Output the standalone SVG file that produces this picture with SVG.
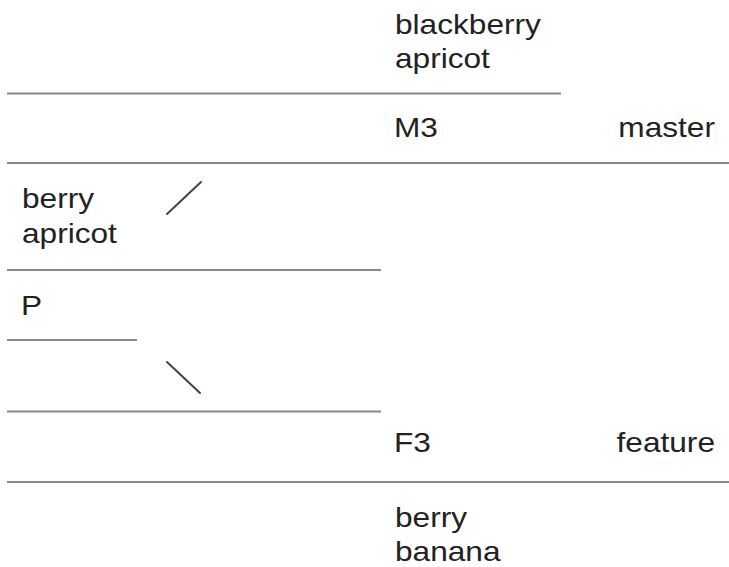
<svg xmlns="http://www.w3.org/2000/svg" width="729" height="567" viewBox="0 0 729 567">
<style>
text{font-family:"Liberation Sans",Arial,sans-serif;font-size:28.5px;fill:#222}
.e{text-anchor:end}
.ln{stroke:#888;stroke-width:2;fill:none}
.cn{stroke:#444;stroke-width:2;fill:none;stroke-linecap:round}
</style>
<rect width="729" height="567" fill="#fff"/>
<g id="rows">
<line class="ln" x1="7" y1="93.5" x2="561" y2="93.5"/>
<line class="ln" x1="7" y1="163" x2="729" y2="163"/>
<line class="ln" x1="7" y1="270" x2="381" y2="270"/>
<line class="ln" x1="7" y1="340" x2="137" y2="340"/>
<line class="ln" x1="7" y1="411.5" x2="381" y2="411.5"/>
<line class="ln" x1="7" y1="482" x2="729" y2="482"/>
</g>
<g id="node-top" transform="translate(395,0) scale(1.11,1)"><text x="0" y="34">blackberry</text><text x="0" y="68">apricot</text></g>
<g id="node-M3" transform="translate(394,137) scale(1.11,1)"><text>M3</text></g>
<g id="node-master" transform="translate(715,137) scale(1.11,1)"><text class="e">master</text></g>
<g id="node-left" transform="translate(22,0) scale(1.11,1)"><text x="0" y="208">berry</text><text x="0" y="243">apricot</text></g>
<g id="node-P" transform="translate(21,315) scale(1.11,1)"><text>P</text></g>
<g id="node-F3" transform="translate(394,452) scale(1.11,1)"><text>F3</text></g>
<g id="node-feature" transform="translate(715,452) scale(1.11,1)"><text class="e">feature</text></g>
<g id="node-bottom" transform="translate(395,0) scale(1.11,1)"><text x="0" y="527">berry</text><text x="0" y="561">banana</text></g>
<g id="connectors">
<line class="cn" x1="167" y1="214" x2="201" y2="182"/>
<line class="cn" x1="167" y1="362" x2="200" y2="393"/>
</g>
</svg>
